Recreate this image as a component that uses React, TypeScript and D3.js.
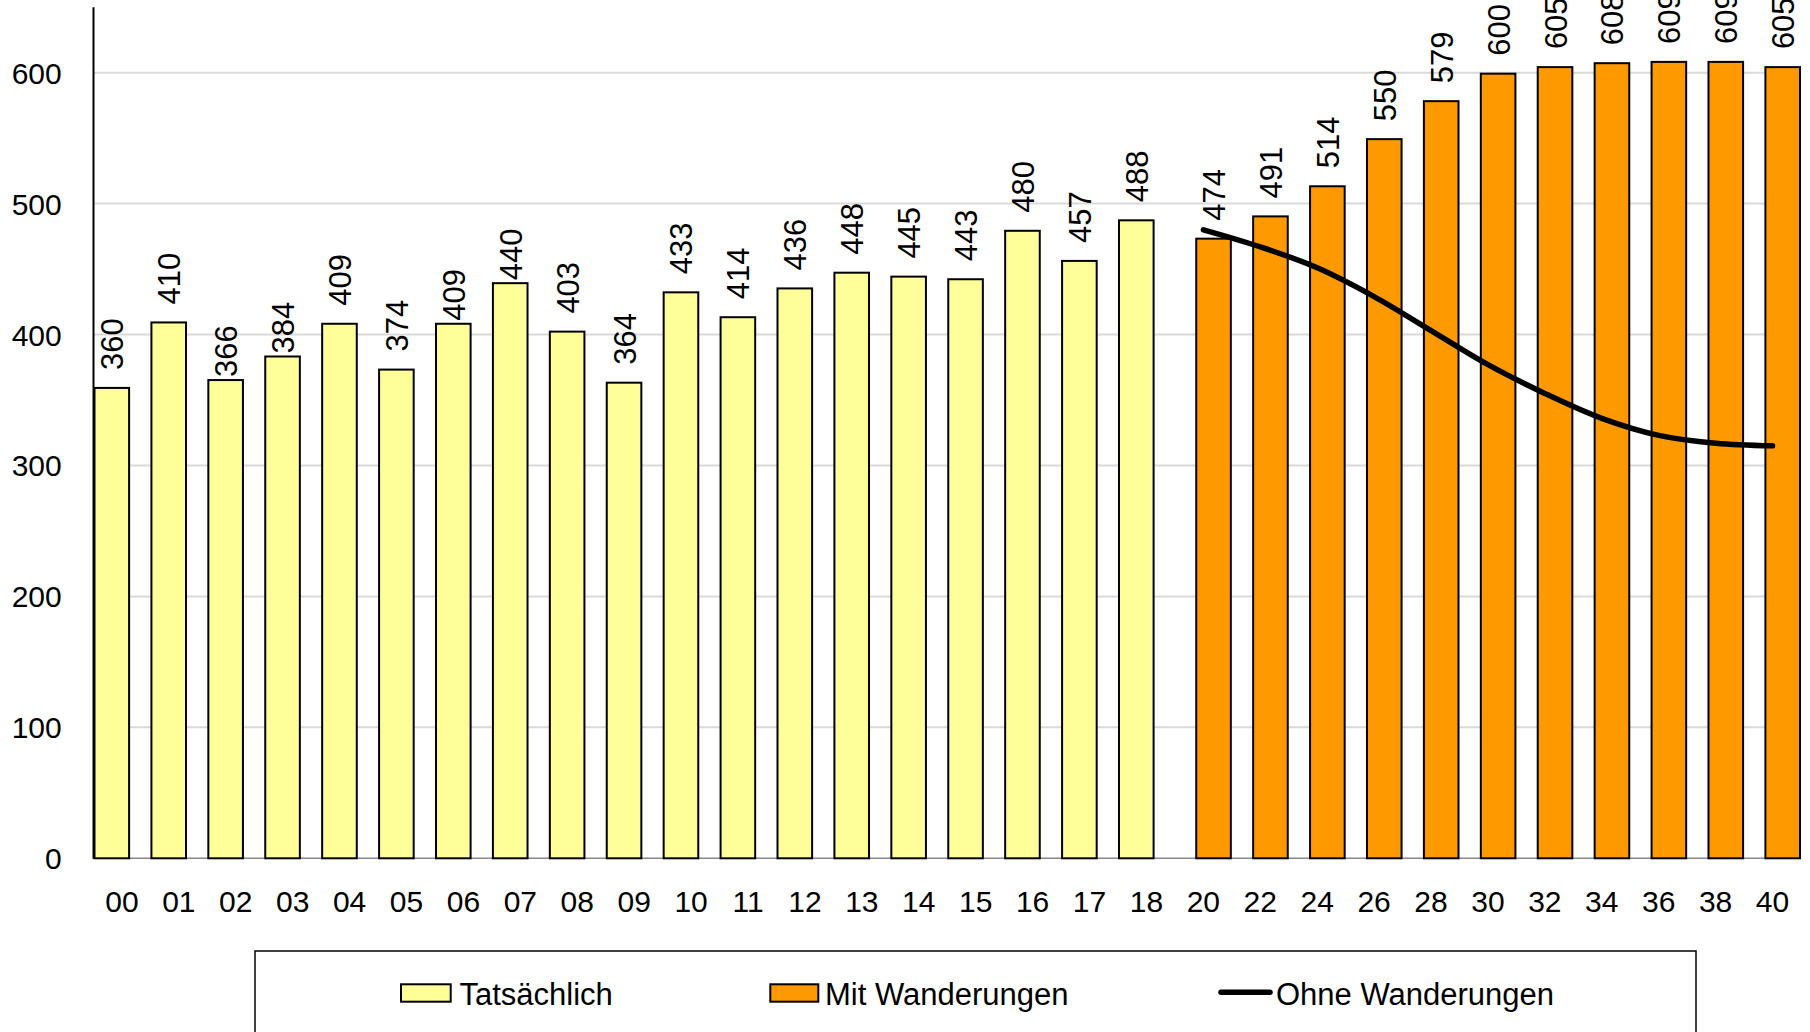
import React from "react";
import * as d3 from "d3";

const categories = [
  "00","01","02","03","04","05","06","07","08","09","10","11","12","13","14","15","16","17","18",
  "20","22","24","26","28","30","32","34","36","38","40",
];
const actualValues: (number | null)[] = [
  360,410,366,384,409,374,409,440,403,364,433,414,436,448,445,443,480,457,488,
  null,null,null,null,null,null,null,null,null,null,null,
];
const withMigrationValues: (number | null)[] = [
  null,null,null,null,null,null,null,null,null,null,null,null,null,null,null,null,null,null,null,
  474,491,514,550,579,600,605,608,609,609,605,
];
const withoutMigrationValues: (number | null)[] = [
  null,null,null,null,null,null,null,null,null,null,null,null,null,null,null,null,null,null,null,
  480,467,451,429,403,377,355,336,323,317,315,
];
const yTicks = [0, 100, 200, 300, 400, 500, 600];
const seriesNames = ["Tatsächlich", "Mit Wanderungen", "Ohne Wanderungen"];
// labels that Excel placed flush against their bar
const flushLabelCats = new Set(["02", "03", "06", "07"]);

const W = 1810;
const H = 1032;
const left = 93.5;
const right = 1801;
const top = 7.2;
const bottom = 858.3;
const FONT = "'Liberation Sans', Arial, sans-serif";
const YELLOW = "#FFFF99";
const ORANGE = "#FF9900";

export default function App() {
  const x = d3.scaleBand<string>().domain(categories).range([left, right]).padding(0);
  const y = d3.scaleLinear().domain([0, 650]).range([bottom, top]);
  const bw = x.bandwidth();
  const barW = 36.6;

  const bars: { cat: string; v: number; x0: number; fill: string }[] = [];
  categories.forEach((c, i) => {
    const a = actualValues[i];
    if (a != null) bars.push({ cat: c, v: a, x0: x(c)!, fill: YELLOW });
    const m = withMigrationValues[i];
    if (m != null) bars.push({ cat: c, v: m, x0: x(c)! + bw - barW, fill: ORANGE });
  });

  const linePts: [number, number][] = [];
  categories.forEach((c, i) => {
    const v = withoutMigrationValues[i];
    if (v != null) linePts.push([x(c)! + bw / 2, y(v)]);
  });
  const lineGen = d3.line<[number, number]>().curve(d3.curveCatmullRom.alpha(0.5));

  return (
    <svg
      width={W}
      height={H}
      style={{ position: "absolute", left: 0, top: 0, background: "#fff" }}
      fontFamily={FONT}
    >
      {yTicks.filter((t) => t > 0).map((t) => (
        <line key={t} x1={left} x2={right} y1={y(t)} y2={y(t)} stroke="#D9D9D9" strokeWidth={2} />
      ))}
      <line x1={left} x2={right} y1={bottom} y2={bottom} stroke="#888" strokeWidth={1.5} />
      {bars.map((b, i) => (
        <rect
          key={i}
          x={b.x0 + 1}
          y={y(b.v) + 1}
          width={barW - 2}
          height={bottom - y(b.v) - 1}
          fill={b.fill}
          stroke="#000"
          strokeWidth={2}
        />
      ))}
      <line x1={left} x2={left} y1={top} y2={bottom + 0.5} stroke="#000" strokeWidth={2} />
      <path
        d={lineGen(linePts) || ""}
        fill="none"
        stroke="#000"
        strokeWidth={5.5}
        strokeLinecap="round"
        strokeLinejoin="round"
      />
      {bars.map((b, i) => {
        const cx = b.x0 + barW / 2;
        const off = flushLabelCats.has(b.cat) ? 2 : 17;
        return (
          <text
            key={"l" + i}
            transform={`translate(${cx + 11.5},${y(b.v) - off}) rotate(-90)`}
            fontSize={31}
            fill="#000"
            textAnchor="start"
          >
            {b.v}
          </text>
        );
      })}
      {yTicks.map((t) => (
        <text key={"y" + t} x={61.7} y={y(t) + 11} fontSize={30} textAnchor="end" fill="#000">
          {t}
        </text>
      ))}
      {categories.map((c) => (
        <text key={"x" + c} x={x(c)! + bw / 2} y={912} fontSize={30} textAnchor="middle" fill="#000">
          {c}
        </text>
      ))}
      <rect x={255} y={951} width={1441} height={120} fill="#fff" stroke="#000" strokeWidth={1.5} />
      <rect x={401} y={984.3} width={49.7} height={17.4} fill={YELLOW} stroke="#000" strokeWidth={2} />
      <text x={459.5} y={1004.5} fontSize={31} fill="#000">{seriesNames[0]}</text>
      <rect x={770.3} y={984.3} width={48} height={17.4} fill={ORANGE} stroke="#000" strokeWidth={2} />
      <text x={825} y={1004.5} fontSize={31} fill="#000">{seriesNames[1]}</text>
      <line x1={1221} x2={1270} y1={992.3} y2={992.3} stroke="#000" strokeWidth={5.5} strokeLinecap="round" />
      <text x={1276} y={1004.5} fontSize={31} fill="#000">{seriesNames[2]}</text>
    </svg>
  );
}
